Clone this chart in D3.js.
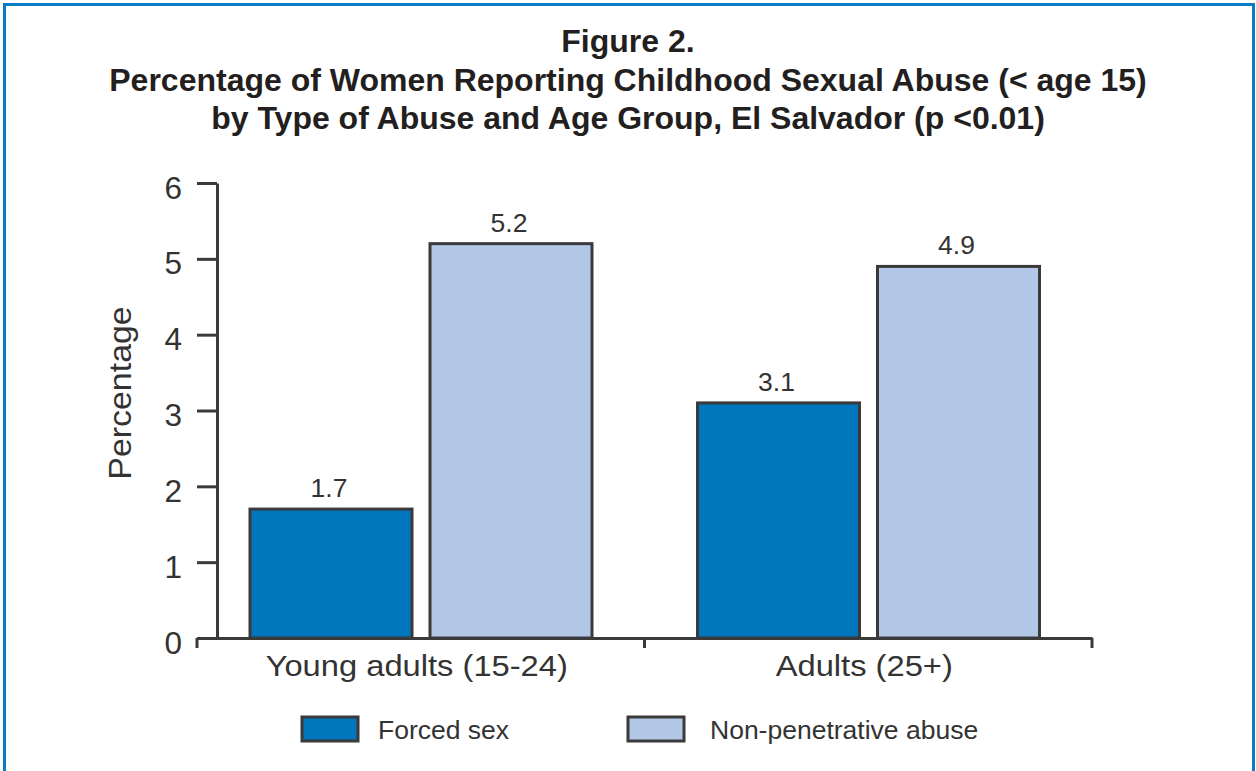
<!DOCTYPE html>
<html>
<head>
<meta charset="utf-8">
<script src="https://cdn.jsdelivr.net/npm/d3@7"></script>
<style>
  html, body { margin: 0; padding: 0; background: #ffffff; }
  svg { display: block; }
  text { font-family: "Liberation Sans", Arial, Helvetica, sans-serif; }
</style>
</head>
<body>
<svg id="chart" width="1256" height="771"></svg>
<script>
// ---- data ----
const titleLines = ["Figure 2.",
  "Percentage of Women Reporting Childhood Sexual Abuse (< age 15)",
  "by Type of Abuse and Age Group, El Salvador (p <0.01)"];
const categories = ["Young adults (15-24)", "Adults (25+)"];
const seriesNames = ["Forced sex", "Non-penetrative abuse"];
const forcedSex = [1.7, 3.1];
const nonPenetrative = [5.2, 4.9];
const yTicks = [0, 1, 2, 3, 4, 5, 6];
const yTitle = "Percentage";
const seriesColors = ["#0077bd", "#b3c8e6"];

const seriesValues = [forcedSex, nonPenetrative];
const rows = categories.map((c, i) => ({
  category: c,
  values: seriesNames.map((s, j) => ({ series: s, value: seriesValues[j][i], idx: j }))
}));

// ---- layout ----
const svg = d3.select("#chart");
const ink = "#333333";
const axisInk = "#3a3a3a";

// frame
svg.append("rect")
  .attr("x", 4.5).attr("y", 4.5)
  .attr("width", 1249).attr("height", 800)
  .attr("fill", "none").attr("stroke", "#0a7cc1").attr("stroke-width", 3);

// title
const titleBase = [52, 90.5, 129];
svg.append("g").selectAll("text").data(titleLines).join("text")
  .attr("x", 628).attr("y", (d, i) => titleBase[i])
  .attr("text-anchor", "middle")
  .attr("font-size", 32).attr("font-weight", "bold")
  .attr("fill", "#231f20")
  .text(d => d);

// scales
const x0 = d3.scaleBand().domain(categories).range([197, 1092]).padding(0);
const x1 = d3.scaleBand().domain(seriesNames).range([53, 395]).paddingInner(0.1).paddingOuter(0);
const y = d3.scaleLinear().domain([0, 6]).range([638, 183]);
const color = d3.scaleOrdinal().domain(seriesNames).range(seriesColors);

// y axis
const yAxis = svg.append("g").attr("transform", "translate(217,0)")
  .call(d3.axisLeft(y).tickValues(yTicks).tickSize(20).tickSizeOuter(0).tickFormat(d3.format("d")));
yAxis.select(".domain").attr("stroke", axisInk).attr("stroke-width", 3);
yAxis.selectAll(".tick line").attr("stroke", axisInk).attr("stroke-width", 3);
yAxis.selectAll(".tick text")
  .attr("x", -35).attr("dy", "0.48em")
  .attr("font-size", 31.5).attr("fill", ink)
  .attr("font-family", "Liberation Sans, Arial, sans-serif");

// y title
svg.append("text")
  .attr("transform", "translate(131,393) rotate(-90) scale(1.06,1)")
  .attr("text-anchor", "middle")
  .attr("font-size", 32).attr("fill", ink)
  .text(yTitle);

// bars
const groups = svg.append("g").selectAll("g").data(rows).join("g")
  .attr("transform", d => `translate(${x0(d.category)},0)`);

groups.selectAll("rect").data(d => d.values).join("rect")
  .attr("x", d => x1(d.series))
  .attr("y", d => y(d.value))
  .attr("width", x1.bandwidth())
  .attr("height", d => y(0) - y(d.value))
  .attr("fill", d => color(d.series))
  .attr("stroke", axisInk).attr("stroke-width", 3);

groups.selectAll("text").data(d => d.values).join("text")
  .attr("x", d => x1(d.series) + x1.bandwidth() / 2 - 2)
  .attr("y", d => y(d.value) - 12)
  .attr("text-anchor", "middle")
  .attr("font-size", 26.5).attr("fill", ink)
  .text(d => d3.format(".1f")(d.value));

// x axis
const xAxis = svg.append("g").attr("transform", "translate(0,638)")
  .call(d3.axisBottom(x0).tickSize(0).tickSizeOuter(0).tickPadding(0));
xAxis.select(".domain").attr("stroke", axisInk).attr("stroke-width", 3);
xAxis.selectAll(".tick text")
  .attr("y", 0).attr("dy", 0)
  .attr("transform", "translate(-4,38) scale(1.09,1)")
  .attr("font-size", 30).attr("fill", ink)
  .attr("font-family", "Liberation Sans, Arial, sans-serif");
// band-edge ticks
const edges = categories.map(c => x0(c)).concat([x0(categories[categories.length - 1]) + x0.bandwidth()]);
xAxis.selectAll("line.edge").data(edges).join("line")
  .attr("class", "edge")
  .attr("x1", d => d).attr("x2", d => d)
  .attr("y1", 0).attr("y2", 10)
  .attr("stroke", axisInk).attr("stroke-width", 3);

// legend
const legendX = [302, 628];
const legend = svg.append("g").selectAll("g").data(seriesNames).join("g")
  .attr("transform", (d, i) => `translate(${legendX[i]},717)`);
legend.append("rect")
  .attr("width", 56).attr("height", 24)
  .attr("fill", d => color(d))
  .attr("stroke", axisInk).attr("stroke-width", 3);
legend.append("text")
  .attr("x", (d, i) => i === 0 ? 76 : 82)
  .attr("y", 22)
  .attr("font-size", 26.5).attr("fill", ink)
  .text(d => d);
</script>
</body>
</html>
